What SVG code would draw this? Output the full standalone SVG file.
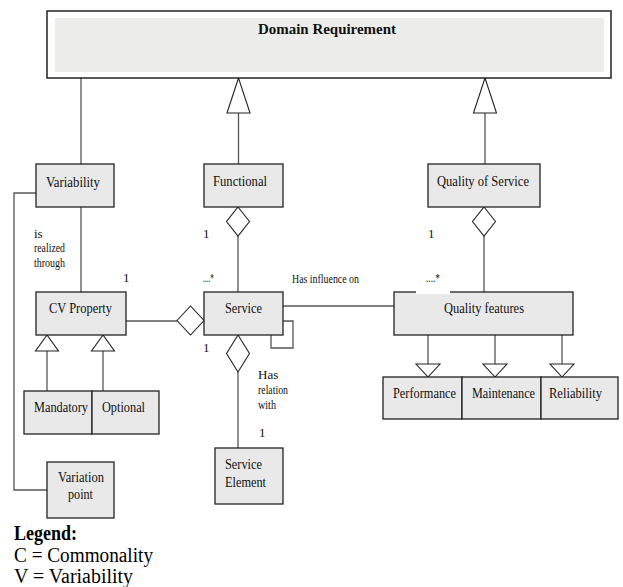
<svg xmlns="http://www.w3.org/2000/svg" width="623" height="587" viewBox="0 0 623 587">
<style>
.box{fill:#e9e9e9;stroke:#222;stroke-width:1.3}
.ln{fill:none;stroke:#555;stroke-width:1.3}
.hd{fill:#fff;stroke:#222;stroke-width:1.1}
.t{font-family:"Liberation Serif","Times New Roman",serif;font-size:15.5px;fill:#111}
.s{font-family:"Liberation Serif","Times New Roman",serif;font-size:13px;fill:#111}
.lg{font-family:"Liberation Serif","Times New Roman",serif;font-size:20px;fill:#000}
</style>
<rect width="623" height="587" fill="#fff"/>
<g id="connectors">
<line class="ln" x1="81" y1="78" x2="81" y2="164"/>
<line class="ln" x1="81" y1="207" x2="81" y2="292"/>
<path class="ln" d="M36,193 H14 V490 H47"/>
<line class="ln" x1="238.5" y1="113" x2="238.5" y2="164"/>
<polygon class="hd" points="238.5,78 227,113 250,113"/>
<line class="ln" x1="485" y1="113" x2="485" y2="164"/>
<polygon class="hd" points="485,78 473.5,113 496.5,113"/>
<line class="ln" x1="238" y1="236" x2="238" y2="292"/>
<polygon class="hd" points="238,207 249.5,221.5 238,236 226.5,221.5"/>
<line class="ln" x1="484" y1="236" x2="484" y2="292"/>
<polygon class="hd" points="484,207 495.5,221.5 484,236 472.5,221.5"/>
<line class="ln" x1="126" y1="321" x2="177" y2="321"/>
<polygon class="hd" points="177,320.5 190.5,306 204,320.5 190.5,335"/>
<line class="ln" x1="283" y1="306" x2="394" y2="306"/>
<path class="ln" d="M283,321 H293 V348 H271 V335"/>
<line class="ln" x1="238" y1="372" x2="238" y2="448"/>
<polygon class="hd" points="238,335 249.5,353.5 238,372 226.5,353.5"/>
<line class="ln" x1="47" y1="351" x2="47" y2="391"/>
<polygon class="hd" points="47,335 35.5,351 58.5,351"/>
<line class="ln" x1="103" y1="351" x2="103" y2="391"/>
<polygon class="hd" points="103,335 91.5,351 114.5,351"/>
<line class="ln" x1="428" y1="335" x2="428" y2="364"/>
<polygon class="hd" points="416,364 440,364 428,377"/>
<line class="ln" x1="495" y1="335" x2="495" y2="364"/>
<polygon class="hd" points="483,364 507,364 495,377"/>
<line class="ln" x1="562" y1="335" x2="562" y2="364"/>
<polygon class="hd" points="550,364 574,364 562,377"/>
</g>
<g id="domain">
<rect x="47" y="11" width="564" height="67" fill="#fff" stroke="#222" stroke-width="1.5"/>
<rect x="55" y="18" width="549" height="54" fill="#ecedeb"/>
<text class="t" x="258" y="34" font-weight="bold" font-size="20" textLength="138" lengthAdjust="spacingAndGlyphs">Domain Requirement</text>
</g>
<g id="variability">
<rect class="box" x="36" y="164" width="78" height="43"/>
<text class="t" x="46" y="187" textLength="54" lengthAdjust="spacingAndGlyphs">Variability</text>
</g>
<g id="functional">
<rect class="box" x="204" y="164" width="79" height="43"/>
<text class="t" x="213" y="186" textLength="54" lengthAdjust="spacingAndGlyphs">Functional</text>
</g>
<g id="qos">
<rect class="box" x="428" y="164" width="112" height="43"/>
<text class="t" x="437" y="186" textLength="92" lengthAdjust="spacingAndGlyphs">Quality of Service</text>
</g>
<g id="cvproperty">
<rect class="box" x="36" y="292" width="90" height="43"/>
<text class="t" x="49" y="313" textLength="63" lengthAdjust="spacingAndGlyphs">CV Property</text>
</g>
<g id="service">
<rect class="box" x="204" y="292" width="79" height="43"/>
<text class="t" x="225" y="313" textLength="37" lengthAdjust="spacingAndGlyphs">Service</text>
</g>
<g id="qualityfeatures">
<rect class="box" x="394" y="292" width="179" height="43"/>
<text class="t" x="444" y="313" textLength="80" lengthAdjust="spacingAndGlyphs">Quality features</text>
</g>
<g id="mandatory">
<rect class="box" x="24" y="391" width="68" height="43"/>
<text class="t" x="34" y="412" textLength="54" lengthAdjust="spacingAndGlyphs">Mandatory</text>
</g>
<g id="optional">
<rect class="box" x="92" y="391" width="67" height="43"/>
<text class="t" x="102" y="412" textLength="43" lengthAdjust="spacingAndGlyphs">Optional</text>
</g>
<g id="performance">
<rect class="box" x="383" y="377" width="79" height="42"/>
<text class="t" x="393" y="398" textLength="63" lengthAdjust="spacingAndGlyphs">Performance</text>
</g>
<g id="maintenance">
<rect class="box" x="462" y="377" width="79" height="42"/>
<text class="t" x="472" y="398" textLength="63" lengthAdjust="spacingAndGlyphs">Maintenance</text>
</g>
<g id="reliability">
<rect class="box" x="541" y="377" width="77" height="42"/>
<text class="t" x="549" y="398" textLength="53" lengthAdjust="spacingAndGlyphs">Reliability</text>
</g>
<g id="serviceelement">
<rect class="box" x="215" y="448" width="68" height="56"/>
<text class="t" x="225" y="469" textLength="37" lengthAdjust="spacingAndGlyphs">Service</text>
<text class="t" x="225" y="487" textLength="41" lengthAdjust="spacingAndGlyphs">Element</text>
</g>
<g id="variationpoint">
<rect class="box" x="47" y="462" width="67" height="56"/>
<text class="t" x="58" y="482" textLength="46" lengthAdjust="spacingAndGlyphs">Variation</text>
<text class="t" x="68" y="499" textLength="25" lengthAdjust="spacingAndGlyphs">point</text>
</g>
<g id="labels">
<text class="s" x="34" y="238">is</text>
<text class="s" x="34" y="252" textLength="31" lengthAdjust="spacingAndGlyphs">realized</text>
<text class="s" x="34" y="267" textLength="31" lengthAdjust="spacingAndGlyphs">through</text>
<text class="s" x="123" y="282">1</text>
<text class="s" x="203" y="238">1</text>
<text class="s" x="203" y="282" textLength="11" lengthAdjust="spacingAndGlyphs">....*</text>
<text class="s" x="292" y="283" textLength="67" lengthAdjust="spacingAndGlyphs">Has influence on</text>
<text class="s" x="428" y="238">1</text>
<rect x="416" y="290" width="34" height="4" fill="#fff"/>
<text class="s" x="426" y="282" textLength="14" lengthAdjust="spacingAndGlyphs">....*</text>
<text class="s" x="203" y="352">1</text>
<text class="s" x="258" y="379">Has</text>
<text class="s" x="258" y="394" textLength="30" lengthAdjust="spacingAndGlyphs">relation</text>
<text class="s" x="258" y="409" textLength="18" lengthAdjust="spacingAndGlyphs">with</text>
<text class="s" x="259" y="437">1</text>
</g>
<g id="legend">
<text class="lg" x="14" y="540" font-weight="bold" textLength="63" lengthAdjust="spacingAndGlyphs">Legend:</text>
<text class="lg" x="14" y="562" textLength="139" lengthAdjust="spacingAndGlyphs">C = Commonality</text>
<text class="lg" x="14" y="583" textLength="119" lengthAdjust="spacingAndGlyphs">V = Variability</text>
</g>
</svg>
